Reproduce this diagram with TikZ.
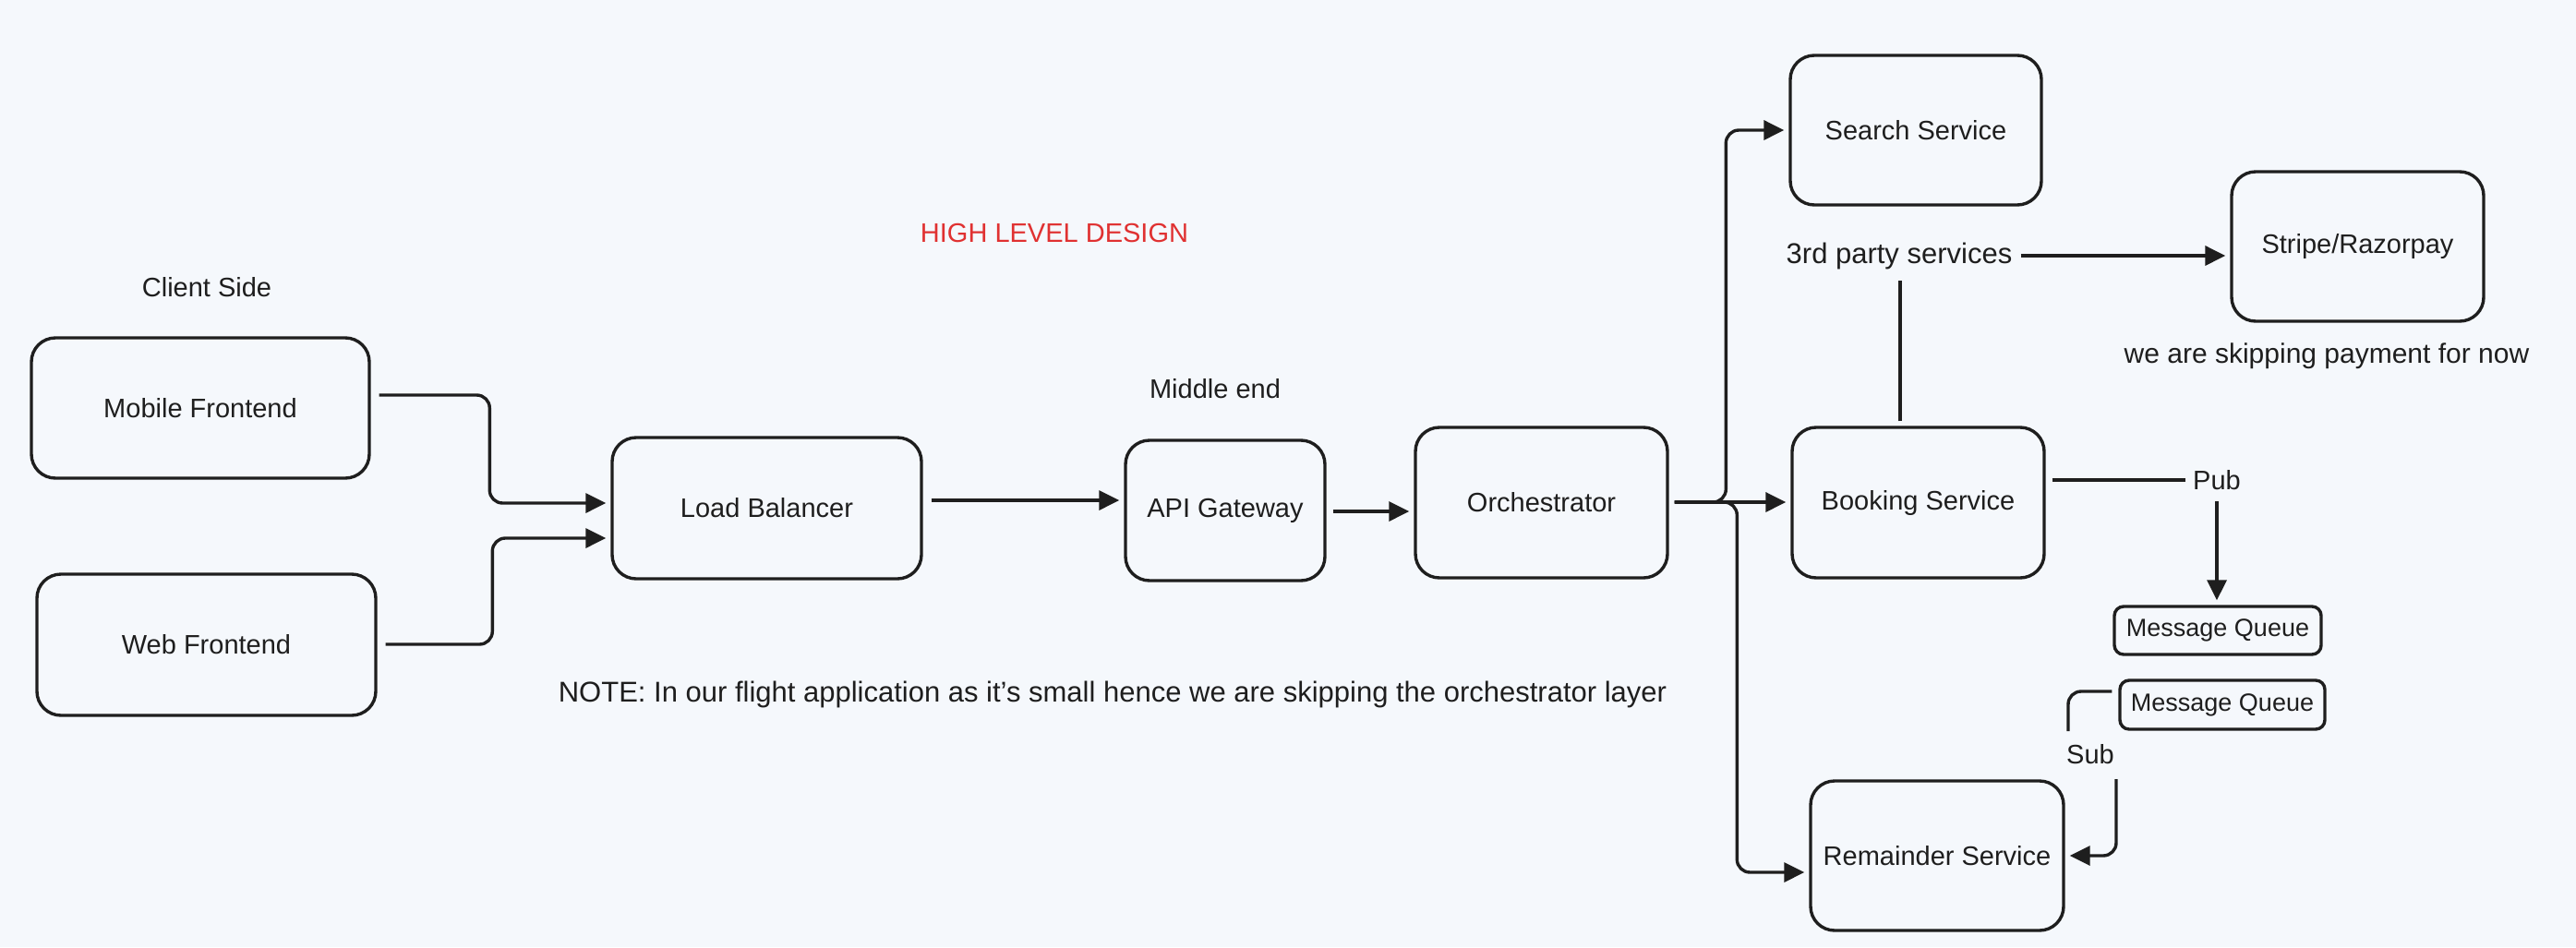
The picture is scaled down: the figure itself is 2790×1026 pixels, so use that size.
\documentclass[tikz,border=0pt]{standalone}
\usepackage{fontspec}
\setmainfont{Liberation Sans}
\usetikzlibrary{arrows.meta,calc}
\definecolor{bgc}{HTML}{F5F8FC}
\definecolor{ink}{HTML}{1E1E1E}
\definecolor{hlred}{HTML}{E03131}
\begin{document}
\begin{tikzpicture}[x=1pt,y=-1pt,
  every node/.style={text=ink, font=\fontsize{29}{34}\selectfont},
  box/.style={draw=ink, line width=3.4pt, rounded corners=26pt, inner sep=0pt},
  qbox/.style={draw=ink, line width=3.4pt, rounded corners=10pt, inner sep=0pt, font=\fontsize{27}{32}\selectfont},
  lbl/.style={inner sep=0pt},
  conn/.style={draw=ink, line width=3.4pt, rounded corners=14pt, shorten >=5pt, -{Triangle[length=22pt,width=21pt]}},
  plain/.style={draw=ink, line width=3.4pt, rounded corners=14pt}]
\fill[bgc] (0,0) rectangle (2790,1026);
\useasboundingbox (0,0) rectangle (2790,1026);

% boxes
\node[box, minimum width=366pt, minimum height=152pt] (mobile) at (217,442) {Mobile Frontend};
\node[box, minimum width=367pt, minimum height=153pt] (web) at (223.5,698.5) {Web Frontend};
\node[box, minimum width=335pt, minimum height=153pt] (lb) at (830.5,550.5) {Load Balancer};
\node[box, minimum width=216pt, minimum height=152pt] (api) at (1327,553) {API Gateway};
\node[box, minimum width=273pt, minimum height=163pt] (orch) at (1669.5,544.5) {Orchestrator};
\node[box, minimum width=272pt, minimum height=162pt] (search) at (2075,141) {Search Service};
\node[box, minimum width=273pt, minimum height=162pt] (stripe) at (2553.5,267) {Stripe/Razorpay};
\node[box, minimum width=273pt, minimum height=163pt] (booking) at (2077.5,544.5) {Booking Service};
\node[qbox, minimum width=224pt, minimum height=52pt] (mq1) at (2402,683) {Message Queue};
\node[qbox, minimum width=222pt, minimum height=53pt] (mq2) at (2407,763.5) {Message Queue};
\node[box, minimum width=274pt, minimum height=162pt] (remainder) at (2098,927) {Remainder Service};

% free texts
\node[lbl] (client) at (224,311) {Client Side};
\node[lbl, text=hlred] (title) at (1142,253) {HIGH LEVEL DESIGN};
\node[lbl] (middle) at (1316,421) {Middle end};
\node[lbl, font=\fontsize{31}{36}\selectfont] (note) at (1205,752) {NOTE: In our flight application as it’s small hence we are skipping the orchestrator layer};
\node[lbl, font=\fontsize{31}{36}\selectfont] (third) at (2057,277) {3rd party services};
\node[lbl, font=\fontsize{30}{35}\selectfont] (skip) at (2520,386) {we are skipping payment for now};
\node[lbl] (pub) at (2401,520) {Pub};
\node[lbl] (sub) at (2264,817) {Sub};

% connectors
\draw[conn] ($(mobile.east)+(9,-14)$) -| ($(lb.west)+(-131,-5.5)$) -- ($(lb.west)+(0,-5.5)$);
\draw[conn] ($(web.east)+(9,-0.5)$) -| ($(lb.west)+(-128,32.5)$) -- ($(lb.west)+(0,32.5)$);
\draw[conn] ($(lb.east)+(9,-8.5)$) -- ($(api.west)+(0,-11)$);
\draw[conn] ($(api.east)+(7,1)$) -- ($(orch.west)+(0,9.5)$);
\draw[conn] ($(orch.east)+(6,-0.5)$) -| ($(search.west)+(-68,0)$) -- (search.west);
\draw[conn] ($(orch.east)+(6,-0.5)$) -- ($(booking.west)+(0,-0.5)$);
\draw[conn] ($(orch.east)+(6,-0.5)$) -| ($(remainder.west)+(-78,18)$) -- ($(remainder.west)+(0,18)$);
\draw[plain] ($(booking.north)+(-19.5,-5)$) -- ($(third.south)+(1,12)$);
\draw[conn] ($(third.east)+(9,0)$) -- ($(stripe.west)+(0,10)$);
\draw[plain] ($(booking.east)+(7,-24.5)$) -- ($(pub.west)+(-8,0)$);
\draw[conn] ($(pub.south)+(0,12)$) -- ($(mq1.north)+(-1,0)$);
\draw[plain] ($(mq2.west)+(-7,-14.5)$) -| ($(sub.center)+(-24,-25)$);
\draw[conn] ($(sub.center)+(28,27)$) |- (remainder.east);
\end{tikzpicture}
\end{document}
